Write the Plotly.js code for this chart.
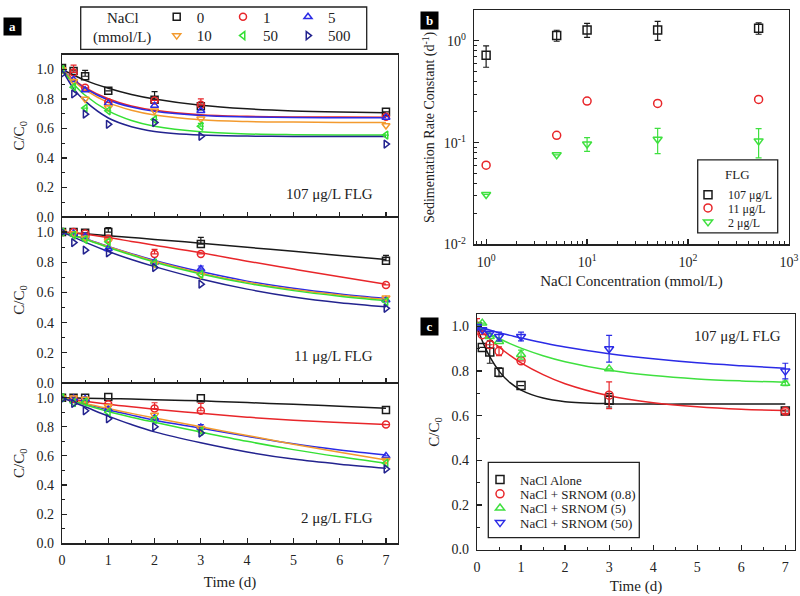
<!DOCTYPE html>
<html><head><meta charset="utf-8">
<script src="https://cdn.plot.ly/plotly-3.0.1.min.js"></script>
<style>html,body{margin:0;padding:0;background:#fff}#chart{width:800px;height:596px}</style>
</head><body><div id="chart"></div>
<script>
// ---------------- DATA ----------------
const tA = [0, 0.25, 0.5, 1, 2, 3, 7];
const tFitA = [0, 0.25, 0.5, 1, 1.5, 2, 3, 4, 5, 6, 7];
const naclNames = ['0', '1', '5', '10', '50', '500'];

// panel a, 107 ug/L FLG
const a107_0 = [1.01, 0.99, 0.954, 0.855, 0.795, 0.75, 0.713];
const a107_1 = [1.0, 0.98, 0.876, 0.777, 0.79, 0.76, 0.68];
const a107_5 = [1.0, 0.93, 0.86, 0.77, 0.755, 0.72, 0.675];
const a107_10 = [1.0, 0.92, 0.80, 0.742, 0.72, 0.665, 0.62];
const a107_50 = [1.0, 0.88, 0.738, 0.72, 0.66, 0.615, 0.555];
const a107_500 = [0.97, 0.834, 0.697, 0.628, 0.64, 0.547, 0.494];
const a107_0_err = [0.02, 0, 0.04, 0, 0.055, 0, 0];
const a107_1_err = [0, 0.05, 0, 0, 0, 0.04, 0];
const a107_50_err = [0, 0, 0, 0, 0, 0.02, 0];
const fit107_0 = [1.0, 0.962, 0.926, 0.873, 0.831, 0.80, 0.757, 0.733, 0.719, 0.711, 0.706];
const fit107_1 = [1.0, 0.931, 0.877, 0.801, 0.753, 0.724, 0.693, 0.682, 0.678, 0.677, 0.676];
const fit107_5 = [1.0, 0.927, 0.871, 0.793, 0.745, 0.716, 0.688, 0.678, 0.674, 0.673, 0.672];
const fit107_10 = [1.0, 0.922, 0.861, 0.775, 0.723, 0.691, 0.659, 0.647, 0.643, 0.641, 0.64];
const fit107_50 = [1.0, 0.902, 0.825, 0.719, 0.654, 0.615, 0.577, 0.563, 0.558, 0.556, 0.555];
const fit107_500 = [1.0, 0.87, 0.785, 0.671, 0.612, 0.58, 0.555, 0.548, 0.546, 0.545, 0.545];

// panel a, 11 ug/L FLG
const a11_0 = [1.0, 1.0, 0.995, 1.0, null, 0.92, 0.81];
const a11_1 = [1.0, 1.0, 0.99, 0.955, 0.855, 0.855, 0.65];
const a11_5 = [1.0, 0.99, 0.97, 0.89, 0.80, 0.755, 0.55];
const a11_10 = [1.0, 0.99, 0.96, 0.94, 0.79, 0.715, 0.565];
const a11_50 = [1.0, 0.98, 0.95, 0.935, 0.795, 0.72, 0.54];
const a11_500 = [1.0, 0.93, 0.88, 0.862, 0.765, 0.655, 0.495];
const a11_0_err = [0, 0, 0, 0.03, 0, 0.045, 0.035];
const a11_1_err = [0, 0, 0, 0, 0.03, 0, 0];
const a11_5_err = [0, 0, 0, 0, 0, 0.02, 0];
const fit11_0 = [1.0, 0.994, 0.988, 0.976, 0.964, 0.951, 0.926, 0.899, 0.872, 0.845, 0.818];
const fit11_1 = [1.0, 0.993, 0.985, 0.963, 0.938, 0.913, 0.863, 0.807, 0.755, 0.704, 0.655];
const fit11_5 = [1.0, 0.978, 0.956, 0.905, 0.857, 0.812, 0.738, 0.675, 0.627, 0.59, 0.56];
const fit11_10 = [1.0, 0.977, 0.954, 0.902, 0.853, 0.806, 0.728, 0.667, 0.62, 0.583, 0.553];
const fit11_50 = [1.0, 0.976, 0.952, 0.898, 0.848, 0.80, 0.722, 0.66, 0.612, 0.575, 0.545];
const fit11_500 = [1.0, 0.966, 0.933, 0.871, 0.818, 0.771, 0.689, 0.622, 0.57, 0.532, 0.505];

// panel a, 2 ug/L FLG
const a2_0 = [1.0, 1.0, 1.0, 1.005, null, 0.995, 0.915];
const a2_1 = [1.0, 0.99, 0.98, 0.955, 0.925, 0.91, 0.815];
const a2_5 = [1.0, 0.995, 0.99, 0.92, 0.86, 0.795, 0.60];
const a2_10 = [1.0, 1.0, 0.99, 0.94, 0.88, 0.79, 0.57];
const a2_50 = [1.0, 0.965, 0.97, 0.90, 0.85, 0.77, 0.55];
const a2_500 = [0.99, 0.96, 0.91, 0.855, 0.80, 0.757, 0.51];
const a2_1_err = [0, 0, 0, 0, 0.04, 0.05, 0];
const a2_5_err = [0, 0, 0, 0, 0, 0.02, 0];
const fit2_0 = [1.0, 0.998, 0.996, 0.993, 0.99, 0.986, 0.978, 0.966, 0.954, 0.941, 0.928];
const fit2_1 = [1.0, 0.987, 0.976, 0.955, 0.937, 0.921, 0.892, 0.866, 0.845, 0.829, 0.815];
const fit2_5 = [1.0, 0.978, 0.957, 0.917, 0.88, 0.845, 0.79, 0.735, 0.683, 0.641, 0.606];
const fit2_10 = [1.0, 0.98, 0.96, 0.925, 0.892, 0.86, 0.80, 0.74, 0.68, 0.625, 0.572];
const fit2_50 = [1.0, 0.975, 0.951, 0.905, 0.866, 0.831, 0.764, 0.70, 0.643, 0.594, 0.55];
const fit2_500 = [1.0, 0.968, 0.937, 0.873, 0.815, 0.765, 0.69, 0.627, 0.578, 0.543, 0.515];

// panel b
const naclConc = [1, 5, 10, 50, 500];
const k107 = [0.72, 1.13, 1.28, 1.28, 1.33];
const k107_err = [0.17, 0.14, 0.2, 0.27, 0.17];
const k11 = [0.060, 0.118, 0.256, 0.243, 0.266];
const k2 = [0.031, 0.076, 0.097, 0.108, 0.104];
const k2_err = [0, 0, 0.015, 0.03, 0.033];
const flgNames = ['107 μg/L', '11 μg/L', '2 μg/L'];

// panel c
const tC = [0, 0.12, 0.29, 0.5, 1, 3, 7];
const tFitC = [0, 0.1, 0.25, 0.5, 0.75, 1, 1.5, 2, 3, 4, 5, 6, 7];
const cAlone = [1.0, 0.906, 0.885, 0.795, 0.735, 0.669, 0.621];
const cNom08 = [1.0, 0.963, 0.918, 0.889, 0.846, 0.692, 0.62];
const cNom5 = [1.0, 1.015, 0.955, 0.933, 0.874, 0.81, 0.745];
const cNom50 = [1.0, 0.985, 0.97, 0.955, 0.955, 0.9, 0.80];
const cAlone_err = [0, 0, 0.05, 0.02, 0, 0.03, 0];
const cNom08_err = [0.035, 0, 0, 0.02, 0, 0.06, 0.01];
const cNom5_err = [0, 0, 0, 0, 0.02, 0, 0.01];
const cNom50_err = [0, 0, 0, 0.02, 0.02, 0.06, 0.035];
const fitC_alone = [1.0, 0.945, 0.879, 0.80, 0.748, 0.715, 0.679, 0.663, 0.654, 0.652, 0.652, 0.652, 0.652];
const fitC_08 = [1.0, 0.98, 0.951, 0.908, 0.87, 0.837, 0.784, 0.743, 0.689, 0.658, 0.64, 0.629, 0.623];
const fitC_5 = [1.0, 0.988, 0.971, 0.946, 0.923, 0.903, 0.869, 0.842, 0.804, 0.78, 0.765, 0.756, 0.75];
const fitC_50 = [1.0, 0.994, 0.986, 0.972, 0.96, 0.948, 0.927, 0.908, 0.878, 0.855, 0.837, 0.824, 0.813];
const cNames = ['NaCl Alone', 'NaCl + SRNOM (0.8)', 'NaCl + SRNOM (5)', 'NaCl + SRNOM (50)'];

// ---------------- STYLE ----------------
const FONT = '"Liberation Serif", "Times New Roman", serif';
const INK = '#222';
const colA = ['#1a1a1a', '#e8262a', '#2b2be6', '#f39a2e', '#35e035', '#23238f'];
const symA = ['square-open', 'circle-open', 'triangle-up-open', 'triangle-down-open', 'triangle-left-open', 'triangle-right-open'];
const W = 800, H = 596;
const px = x => x / W, py = y => 1 - y / H;

const traces = [];
function errObj(arr, color, symmetric) {
  if (!arr) return {visible: false};
  const o = {type: 'data', array: arr, visible: true, color: color, thickness: 1.2, width: 3};
  if (!symmetric) { o.symmetric = false; o.arrayminus = arr.map(() => 0); }
  return o;
}

// panel a
const panelA = [
  {xa: 'x', ya: 'y', data: [a107_0, a107_1, a107_5, a107_10, a107_50, a107_500],
   err: [a107_0_err, a107_1_err, null, null, a107_50_err, null],
   fit: [fit107_0, fit107_1, fit107_5, fit107_10, fit107_50, fit107_500], legend: true},
  {xa: 'x2', ya: 'y2', data: [a11_0, a11_1, a11_5, a11_10, a11_50, a11_500],
   err: [a11_0_err, a11_1_err, a11_5_err, null, null, null],
   fit: [fit11_0, fit11_1, fit11_5, fit11_10, fit11_50, fit11_500], legend: false},
  {xa: 'x3', ya: 'y3', data: [a2_0, a2_1, a2_5, a2_10, a2_50, a2_500],
   err: [null, a2_1_err, a2_5_err, null, null, null],
   fit: [fit2_0, fit2_1, fit2_5, fit2_10, fit2_50, fit2_500], legend: false}
];
const legendIdsA = ['legend', 'legend2', 'legend3', 'legend4', 'legend5', 'legend6'];
panelA.forEach(p => {
  p.fit.forEach((f, i) => traces.push({
    x: tFitA, y: f, xaxis: p.xa, yaxis: p.ya, mode: 'lines', showlegend: false,
    line: {color: colA[i], width: 1.5, shape: 'spline'}, hoverinfo: 'skip'
  }));
  p.data.forEach((d, i) => traces.push({
    x: tA, y: d, xaxis: p.xa, yaxis: p.ya, mode: 'markers', name: naclNames[i],
    showlegend: p.legend, legend: legendIdsA[i],
    marker: {symbol: symA[i], size: 7, color: colA[i], line: {width: 1.5, color: colA[i]}},
    error_y: errObj(p.err[i], colA[i], false)
  }));
});

// panel b
const colB = ['#1a1a1a', '#e8262a', '#3fe03f'];
const symB = ['square-open', 'circle-open', 'triangle-down-open'];
const kSeries = [k107, k11, k2];
const kErr = [k107_err, null, k2_err];
kSeries.forEach((k, i) => traces.push({
  x: naclConc, y: k, xaxis: 'x4', yaxis: 'y4', mode: 'markers', name: flgNames[i],
  legend: 'legend' + (7 + i),
  marker: {symbol: symB[i], size: 8, color: colB[i], line: {width: 1.5, color: colB[i]}},
  error_y: errObj(kErr[i], colB[i], true)
}));

// panel c
const colC = ['#1a1a1a', '#e8262a', '#3fe03f', '#2b2be6'];
const symC = ['square-open', 'circle-open', 'triangle-up-open', 'triangle-down-open'];
const cData = [cAlone, cNom08, cNom5, cNom50];
const cErr = [cAlone_err, cNom08_err, cNom5_err, cNom50_err];
const cFit = [fitC_alone, fitC_08, fitC_5, fitC_50];
cFit.forEach((f, i) => traces.push({
  x: tFitC, y: f, xaxis: 'x5', yaxis: 'y5', mode: 'lines', showlegend: false,
  line: {color: colC[i], width: 1.5, shape: 'spline'}, hoverinfo: 'skip'
}));
cData.forEach((d, i) => traces.push({
  x: tC, y: d, xaxis: 'x5', yaxis: 'y5', mode: 'markers', name: cNames[i],
  legend: 'legend' + (10 + i),
  marker: {symbol: symC[i], size: 8, color: colC[i], line: {width: 1.5, color: colC[i]}},
  error_y: errObj(cErr[i], colC[i], true)
}));

// ---------------- LAYOUT ----------------
function axis(extra) {
  return Object.assign({
    showline: true, mirror: true, linecolor: INK, linewidth: 1.3,
    ticks: 'inside', ticklen: 5, tickwidth: 1.2, tickcolor: INK,
    showgrid: false, zeroline: false, ticklabelstandoff: 4,
    tickfont: {family: FONT, size: 14, color: INK}
  }, extra);
}
const titleFont = {family: FONT, size: 15, color: INK};
const xAdom = [px(62), px(398)];
const xAcommon = {domain: xAdom, range: [0, 7.26], tick0: 0, dtick: 1,
  minor: {ticks: 'inside', ticklen: 3, dtick: 0.5, tickcolor: INK, tickwidth: 1}};
const yAcommon = {range: [0, 1.1], tick0: 0, dtick: 0.2, tickformat: '.1f',
  minor: {ticks: 'inside', ticklen: 3, dtick: 0.1, tickcolor: INK, tickwidth: 1},
  title: {text: 'C/C<sub>0</sub>', font: titleFont, standoff: 8}};

const minorLog = [];
for (let e = -3; e <= 3; e++) for (let m = 2; m <= 9; m++) minorLog.push(m * Math.pow(10, e));

const layout = {
  width: W, height: H, margin: {l: 0, r: 0, t: 0, b: 0},
  paper_bgcolor: '#fff', plot_bgcolor: '#fff',
  font: {family: FONT, color: INK},
  xaxis: axis(Object.assign({anchor: 'y', showticklabels: false}, xAcommon)),
  yaxis: axis(Object.assign({anchor: 'x', domain: [py(215), py(52)]}, yAcommon)),
  xaxis2: axis(Object.assign({anchor: 'y2', showticklabels: false}, xAcommon)),
  yaxis2: axis(Object.assign({anchor: 'x2', domain: [py(382), py(215)]}, yAcommon)),
  xaxis3: axis(Object.assign({anchor: 'y3', title: {text: 'Time (d)', font: titleFont, standoff: 9}}, xAcommon)),
  yaxis3: axis(Object.assign({anchor: 'x3', domain: [py(543), py(382)]}, yAcommon)),
  xaxis4: axis({anchor: 'y4', type: 'log', domain: [px(474), px(789)], range: [-0.12, 3],
    tickmode: 'array', tickvals: [1, 10, 100, 1000],
    ticktext: ['10<sup>0</sup>', '10<sup>1</sup>', '10<sup>2</sup>', '10<sup>3</sup>'],
    minor: {ticks: 'inside', ticklen: 3, tickmode: 'array', tickvals: minorLog, tickcolor: INK, tickwidth: 1},
    title: {text: 'NaCl Concentration (mmol/L)', font: titleFont, standoff: 7}}),
  yaxis4: axis({anchor: 'x4', type: 'log', domain: [py(242.7), py(7.3)], range: [-2, 0.3],
    tickmode: 'array', tickvals: [0.01, 0.1, 1],
    ticktext: ['10<sup>-2</sup>', '10<sup>-1</sup>', '10<sup>0</sup>'],
    minor: {ticks: 'inside', ticklen: 3, tickmode: 'array', tickvals: minorLog, tickcolor: INK, tickwidth: 1},
    title: {text: 'Sedimentation Rate Constant (d<sup>-1</sup>)', font: {family: FONT, size: 14, color: INK}, standoff: 5}}),
  xaxis5: axis({anchor: 'y5', domain: [px(477), px(795)], range: [0, 7.22], tick0: 0, dtick: 1,
    minor: {ticks: 'inside', ticklen: 3, dtick: 0.5, tickcolor: INK, tickwidth: 1},
    title: {text: 'Time (d)', font: titleFont, standoff: 7}}),
  yaxis5: axis({anchor: 'x5', domain: [py(549.3), py(313)], range: [0, 1.054], tick0: 0, dtick: 0.2, tickformat: '.1f',
    minor: {ticks: 'inside', ticklen: 3, dtick: 0.1, tickcolor: INK, tickwidth: 1},
    title: {text: 'C/C<sub>0</sub>', font: titleFont, standoff: 8}}),
  shapes: [
    {type: 'rect', xref: 'paper', yref: 'paper', x0: px(80.7), x1: px(366.7), y0: py(46.7), y1: py(4),
     line: {color: INK, width: 1.3}},
    {type: 'rect', xref: 'paper', yref: 'paper', x0: px(697.7), x1: px(777.7), y0: py(231), y1: py(157.7),
     line: {color: INK, width: 1.3}},
    {type: 'rect', xref: 'paper', yref: 'paper', x0: px(488.3), x1: px(639.3), y0: py(537.3), y1: py(461.7),
     line: {color: INK, width: 1.3}}
  ],
  annotations: []
};

// legends: one entry each, positioned at the marker location
const legFont15 = {family: FONT, size: 15, color: INK};
const legPosA = [[176.7, 14], [243, 14], [308, 14], [176.7, 33], [243, 33], [308, 33]];
legendIdsA.forEach((id, i) => {
  layout[id] = {x: px(legPosA[i][0] - 20), y: py(legPosA[i][1]), xanchor: 'left', yanchor: 'middle',
    bgcolor: 'rgba(0,0,0,0)', borderwidth: 0, font: legFont15};
});
const legPosB = [[708, 192.7], [708, 206], [708, 220]];
legPosB.forEach((p, i) => {
  layout['legend' + (7 + i)] = {x: px(p[0] - 20), y: py(p[1]), xanchor: 'left', yanchor: 'middle',
    bgcolor: 'rgba(0,0,0,0)', borderwidth: 0, font: {family: FONT, size: 12, color: INK}};
});
const legPosC = [[500, 479], [500, 493.3], [500, 507.7], [500, 522.3]];
legPosC.forEach((p, i) => {
  layout['legend' + (10 + i)] = {x: px(p[0] - 20), y: py(p[1]), xanchor: 'left', yanchor: 'middle',
    bgcolor: 'rgba(0,0,0,0)', borderwidth: 0, font: {family: FONT, size: 13, color: INK}};
});

function note(text, x, y, xanchor, size) {
  layout.annotations.push({text: text, xref: 'paper', yref: 'paper', x: px(x), y: py(y),
    xanchor: xanchor, yanchor: 'middle', showarrow: false, font: {family: FONT, size: size, color: INK}});
}
function tag(text, x, y) {
  layout.annotations.push({text: '<b>' + text + '</b>', xref: 'paper', yref: 'paper', x: px(x), y: py(y),
    xanchor: 'center', yanchor: 'middle', showarrow: false, bgcolor: '#000', width: 13, height: 13, borderpad: 2,
    font: {family: FONT, size: 13, color: '#fff'}});
}
note('NaCl', 123, 15, 'center', 15);
note('(mmol/L)', 121.7, 35, 'center', 15);
note('107 μg/L FLG', 375, 192, 'right', 15);
note('11 μg/L FLG', 375, 355, 'right', 15);
note('2 μg/L FLG', 375, 518, 'right', 15);
note('FLG', 737, 172, 'center', 13);
note('107 μg/L FLG', 783, 335, 'right', 15);
tag('a', 12.5, 24);
tag('b', 429, 18);
tag('c', 429.5, 325.5);

Plotly.newPlot('chart', traces, layout, {displayModeBar: false, staticPlot: true});
</script></body></html>
